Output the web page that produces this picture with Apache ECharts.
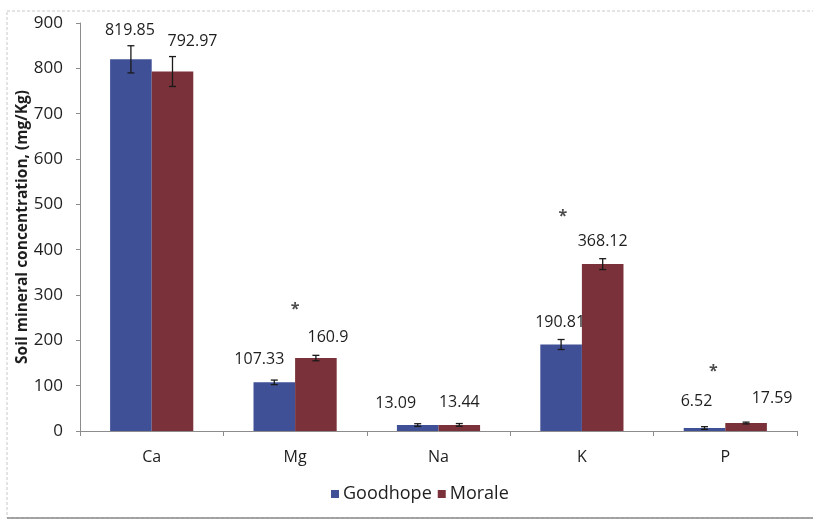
<!DOCTYPE html>
<html>
<head>
<meta charset="utf-8">
<script src="https://cdn.jsdelivr.net/npm/echarts@6/dist/echarts.min.js"></script>
<style>
  html, body { margin: 0; padding: 0; background: #fff; }
  #chart { width: 813px; height: 520px; }
</style>
</head>
<body>
<div id="chart"></div>
<script>
// Soil mineral concentration at the two sites
const minerals = ['Ca', 'Mg', 'Na', 'K', 'P'];
const goodhope = [819.85, 107.33, 13.09, 190.81, 6.52];
const morale = [792.97, 160.9, 13.44, 368.12, 17.59];
const goodhopeErr = [30, 5, 3, 11, 3];
const moraleErr = [33, 6, 3, 12, 2];
const yTicks = [0, 100, 200, 300, 400, 500, 600, 700, 800, 900];

// Significance markers (*) and the height they sit at
const sigMinerals = ['Mg', 'K', 'P'];
const sigHeights = [278, 483, 141];

// Label nudges [dx, dy] in pixels, so labels clear the error bars
const goodhopeLabelShift = [[-1, -16], [-15, -10], [-22, -9], [-1, -9], [-8, -14]];
const moraleLabelShift = [[20, -17], [12, -8], [0, -9], [0, -10], [26, -12]];
const sigShift = [[0, 4], [-19, 4], [-12, 4]];

const FONT = '"Open Sans", sans-serif';
const COLOR_G = '#3f5096';
const COLOR_M = '#7b3139';
const TEXT = '#1e1e1e';
const GAP = 0.42;

const chart = echarts.init(document.getElementById('chart'));

function barItems(values, shifts) {
  return values.map((v, i) => ({
    value: v,
    label: { offset: shifts[i] }
  }));
}

function errorSeries(values, errs, side) {
  return {
    type: 'custom',
    z: 5,
    silent: true,
    data: values.map((v, i) => [i, v, errs[i]]),
    renderItem: function (params, api) {
      const idx = api.value(0);
      const v = api.value(1);
      const e = api.value(2);
      const catW = api.size([1, 0])[0];
      const dx = side * catW * (1 - GAP) / 4;
      const hi = api.coord([idx, v + e]);
      const lo = api.coord([idx, v - e]);
      const x = hi[0] + dx;
      const cap = 3.5;
      const style = { stroke: '#1a1a1a', lineWidth: 1.3 };
      return {
        type: 'group',
        children: [
          { type: 'line', shape: { x1: x, y1: hi[1], x2: x, y2: lo[1] }, style: style },
          { type: 'line', shape: { x1: x - cap, y1: hi[1], x2: x + cap, y2: hi[1] }, style: style },
          { type: 'line', shape: { x1: x - cap, y1: lo[1], x2: x + cap, y2: lo[1] }, style: style }
        ]
      };
    }
  };
}

const option = {
  animation: false,
  backgroundColor: '#fff',
  textStyle: { fontFamily: FONT },
  grid: { left: 80, right: 16, top: 23, bottom: 89 },
  graphic: [
    {
      type: 'rect',
      shape: { x: 7, y: 11, width: 830, height: 507 },
      style: { fill: 'none', stroke: '#c8c8c8', lineWidth: 1, lineDash: [3, 2] },
      silent: true
    },
    {
      type: 'line',
      shape: { x1: 7, y1: 518, x2: 813, y2: 518 },
      style: { stroke: '#8a8a8a', lineWidth: 1.5 },
      silent: true
    }
  ],
  legend: {
    bottom: 12,
    left: 326,
    itemWidth: 8,
    itemHeight: 8,
    itemGap: 6,
    icon: 'rect',
    data: ['Goodhope', 'Morale'],
    textStyle: { fontFamily: FONT, fontSize: 18, color: TEXT, padding: [0, 0, 0, -1] }
  },
  xAxis: {
    type: 'category',
    data: minerals,
    axisLine: { lineStyle: { color: '#8c8c8c', width: 1 } },
    axisTick: { show: true, length: 5, lineStyle: { color: '#8c8c8c' } },
    axisLabel: { fontFamily: FONT, fontSize: 16, color: TEXT, margin: 18 }
  },
  yAxis: {
    type: 'value',
    min: yTicks[0],
    max: yTicks[yTicks.length - 1],
    interval: yTicks[1] - yTicks[0],
    name: 'Soil mineral concentration, (mg/Kg)',
    nameLocation: 'middle',
    nameGap: 49,
    nameMoveOverlap: false,
    nameTextStyle: { fontFamily: FONT, fontSize: 15.5, fontWeight: 'bold', color: TEXT },
    axisLine: { show: true, lineStyle: { color: '#8c8c8c', width: 1 } },
    axisTick: { show: true, length: 4, lineStyle: { color: '#8c8c8c' } },
    axisLabel: { fontFamily: FONT, fontSize: 17, color: TEXT, margin: 17 },
    splitLine: { show: false }
  },
  series: [
    {
      name: 'Goodhope',
      type: 'bar',
      barGap: '0%',
      barCategoryGap: (GAP * 100) + '%',
      itemStyle: { color: COLOR_G },
      label: {
        show: true, position: 'top', distance: 5,
        fontFamily: FONT, fontSize: 16, color: TEXT
      },
      data: barItems(goodhope, goodhopeLabelShift)
    },
    {
      name: 'Morale',
      type: 'bar',
      barGap: '0%',
      barCategoryGap: (GAP * 100) + '%',
      itemStyle: { color: COLOR_M },
      label: {
        show: true, position: 'top', distance: 5,
        fontFamily: FONT, fontSize: 16, color: TEXT
      },
      data: barItems(morale, moraleLabelShift)
    },
    errorSeries(goodhope, goodhopeErr, -1),
    errorSeries(morale, moraleErr, 1),
    {
      type: 'scatter',
      silent: true,
      symbolSize: 0,
      z: 6,
      data: sigMinerals.map((m, i) => ({
        value: [m, sigHeights[i]],
        label: { offset: sigShift[i] }
      })),
      label: {
        show: true, position: 'inside', formatter: '*',
        fontFamily: FONT, fontSize: 16, fontWeight: 'bold', color: TEXT
      }
    }
  ]
};

chart.setOption(option);
</script>
</body>
</html>
